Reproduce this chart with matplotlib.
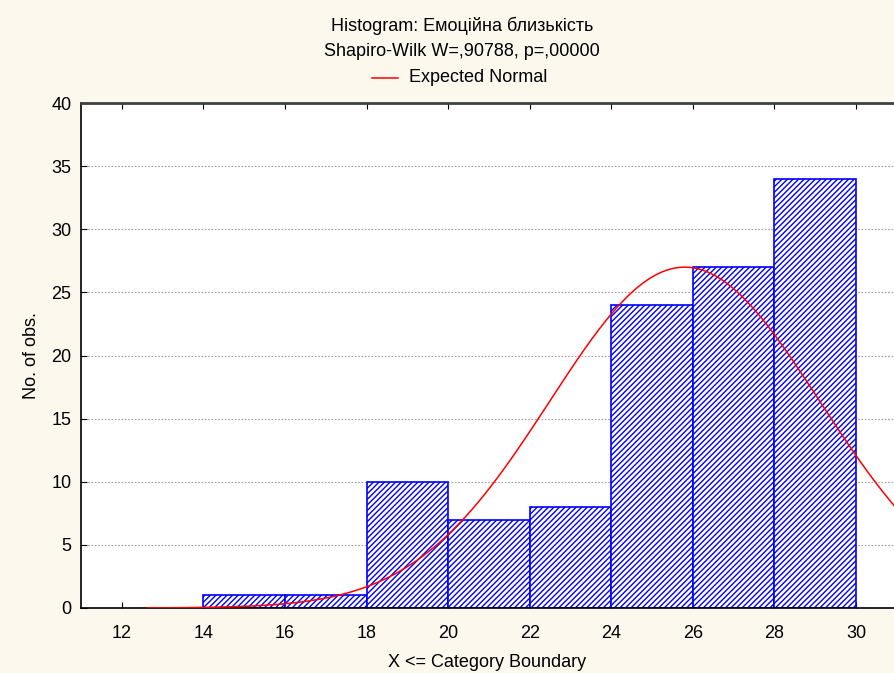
import numpy as np
import matplotlib
matplotlib.use("Agg")
import matplotlib.pyplot as plt

plt.rcParams['font.family'] = ['Liberation Sans', 'DejaVu Sans']
plt.rcParams['hatch.linewidth'] = 1.0
plt.rcParams['hatch.color'] = '#0000ff'

bin_edges = [14, 16, 18, 20, 22, 24, 26, 28, 30]
counts = [1, 1, 10, 7, 8, 24, 27, 34]
x_ticks = [12, 14, 16, 18, 20, 22, 24, 26, 28, 30]
y_ticks = [0, 5, 10, 15, 20, 25, 30, 35, 40]
normal_mean = 25.8
normal_sd = 3.31
n_obs = sum(counts)
bin_width = 2

FS = 13

fig = plt.figure(figsize=(8.94, 6.73), dpi=100)
fig.patch.set_facecolor('#fdf8ee')
W, H = 894, 673
ax = fig.add_axes([81 / W, 1 - 608 / H, (894 - 81) / W, (608 - 103) / H])
ax.set_facecolor('white')

lefts = bin_edges[:-1]
ax.bar(lefts, counts, width=bin_width, align='edge', facecolor='white',
       edgecolor='#0000ff', hatch='//////', linewidth=1.2, zorder=2)

xs = np.linspace(12.64, 31.2, 400)
ys = n_obs * bin_width / (normal_sd * np.sqrt(2 * np.pi)) * np.exp(-0.5 * ((xs - normal_mean) / normal_sd) ** 2)
ax.plot(xs, ys, color='#ff0000', linewidth=1.1, zorder=3)

ax.set_xlim(11, 30.93)
ax.set_ylim(0, 40)
ax.set_xticks(x_ticks)
ax.set_yticks(y_ticks)
ax.tick_params(direction='in', length=4, labelsize=FS, colors='#000000')
ax.tick_params(axis='x', top=True, pad=12)
ax.tick_params(axis='y', pad=7)
ax.yaxis.grid(True, linestyle=(0, (1.5, 1.5)), color='#a0a0a0', linewidth=0.8, zorder=0)
ax.set_axisbelow(True)
for s in ['left', 'bottom', 'top']:
    ax.spines[s].set_color('#000000')
    ax.spines[s].set_linewidth(1.2)
ax.spines['top'].set_color('#404040')
ax.spines['top'].set_linewidth(2)
ax.spines['right'].set_visible(False)

ax.set_xlabel('X <= Category Boundary', fontsize=FS, labelpad=9)
ax.set_ylabel('No. of obs.', fontsize=FS, labelpad=8)

fig.text(462 / W, 1 - 26 / H, 'Histogram: Емоційна близькість', ha='center', va='center', fontsize=FS)
fig.text(462 / W, 1 - 52 / H, 'Shapiro-Wilk W=,90788, p=,00000', ha='center', va='center', fontsize=FS)
fig.add_artist(plt.Line2D([372 / W, 398 / W], [1 - 78 / H, 1 - 78 / H], color='#ff0000', linewidth=1.1))
fig.text(409 / W, 1 - 78 / H, 'Expected Normal', ha='left', va='center', fontsize=FS)

fig.savefig('out.png', dpi=100, facecolor=fig.get_facecolor())
